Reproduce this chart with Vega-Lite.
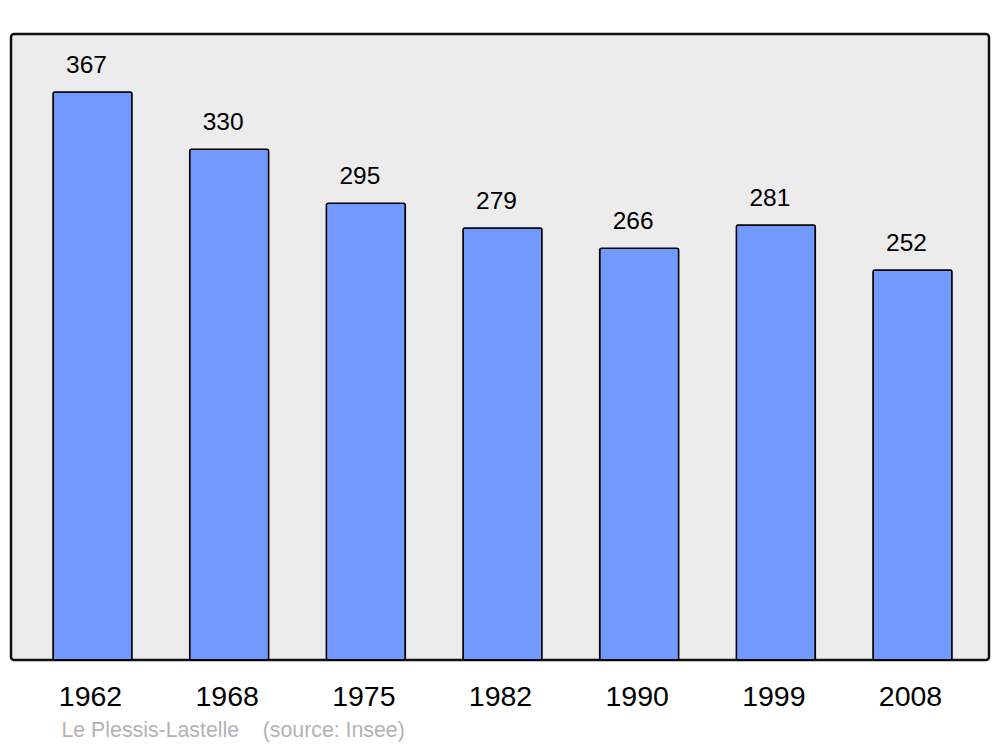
{
  "$schema": "https://vega.github.io/schema/vega-lite/v6.json",
  "width": 978,
  "height": 626,
  "autosize": {"type": "none"},
  "padding": {"left": 11, "top": 34, "right": 11, "bottom": 87},
  "background": "white",
  "config": {
    "font": "Liberation Sans",
    "view": {"fill": "#ececec", "stroke": "#111111", "strokeWidth": 2.5, "cornerRadius": 3}
  },
  "data": {
    "values": [
      {"year": "1962", "pop": 367},
      {"year": "1968", "pop": 330},
      {"year": "1975", "pop": 295},
      {"year": "1982", "pop": 279},
      {"year": "1990", "pop": 266},
      {"year": "1999", "pop": 281},
      {"year": "2008", "pop": 252}
    ]
  },
  "encoding": {
    "x": {
      "field": "year",
      "type": "ordinal",
      "sort": null,
      "scale": {"paddingInner": 0.422, "paddingOuter": 0, "range": [42, 941]},
      "axis": {
        "domain": false,
        "ticks": false,
        "labelAngle": 0,
        "labelFontSize": 28.5,
        "labelColor": "black",
        "labelPadding": 22,
        "labelOffset": -2,
        "title": "Le Plessis-Lastelle \u00a0\u00a0\u00a0(source: Insee)",
        "titleFontSize": 21.3,
        "titleFontWeight": "normal",
        "titleColor": "#b3b3b3",
        "titleAlign": "left",
        "titleAnchor": "start",
        "titleBaseline": "top",
        "titleX": 50,
        "titleY": 59
      }
    },
    "y": {
      "field": "pop",
      "type": "quantitative",
      "scale": {"domain": [0, 404.4], "nice": false},
      "axis": null
    }
  },
  "layer": [
    {
      "mark": {"type": "bar", "fill": "#7299ff", "stroke": "black", "strokeWidth": 1.5, "cornerRadius": 2}
    },
    {
      "mark": {"type": "text", "fontSize": 24.5, "dy": -19, "dx": -6, "baseline": "alphabetic", "color": "black"},
      "encoding": {"text": {"field": "pop", "type": "quantitative"}}
    }
  ]
}
